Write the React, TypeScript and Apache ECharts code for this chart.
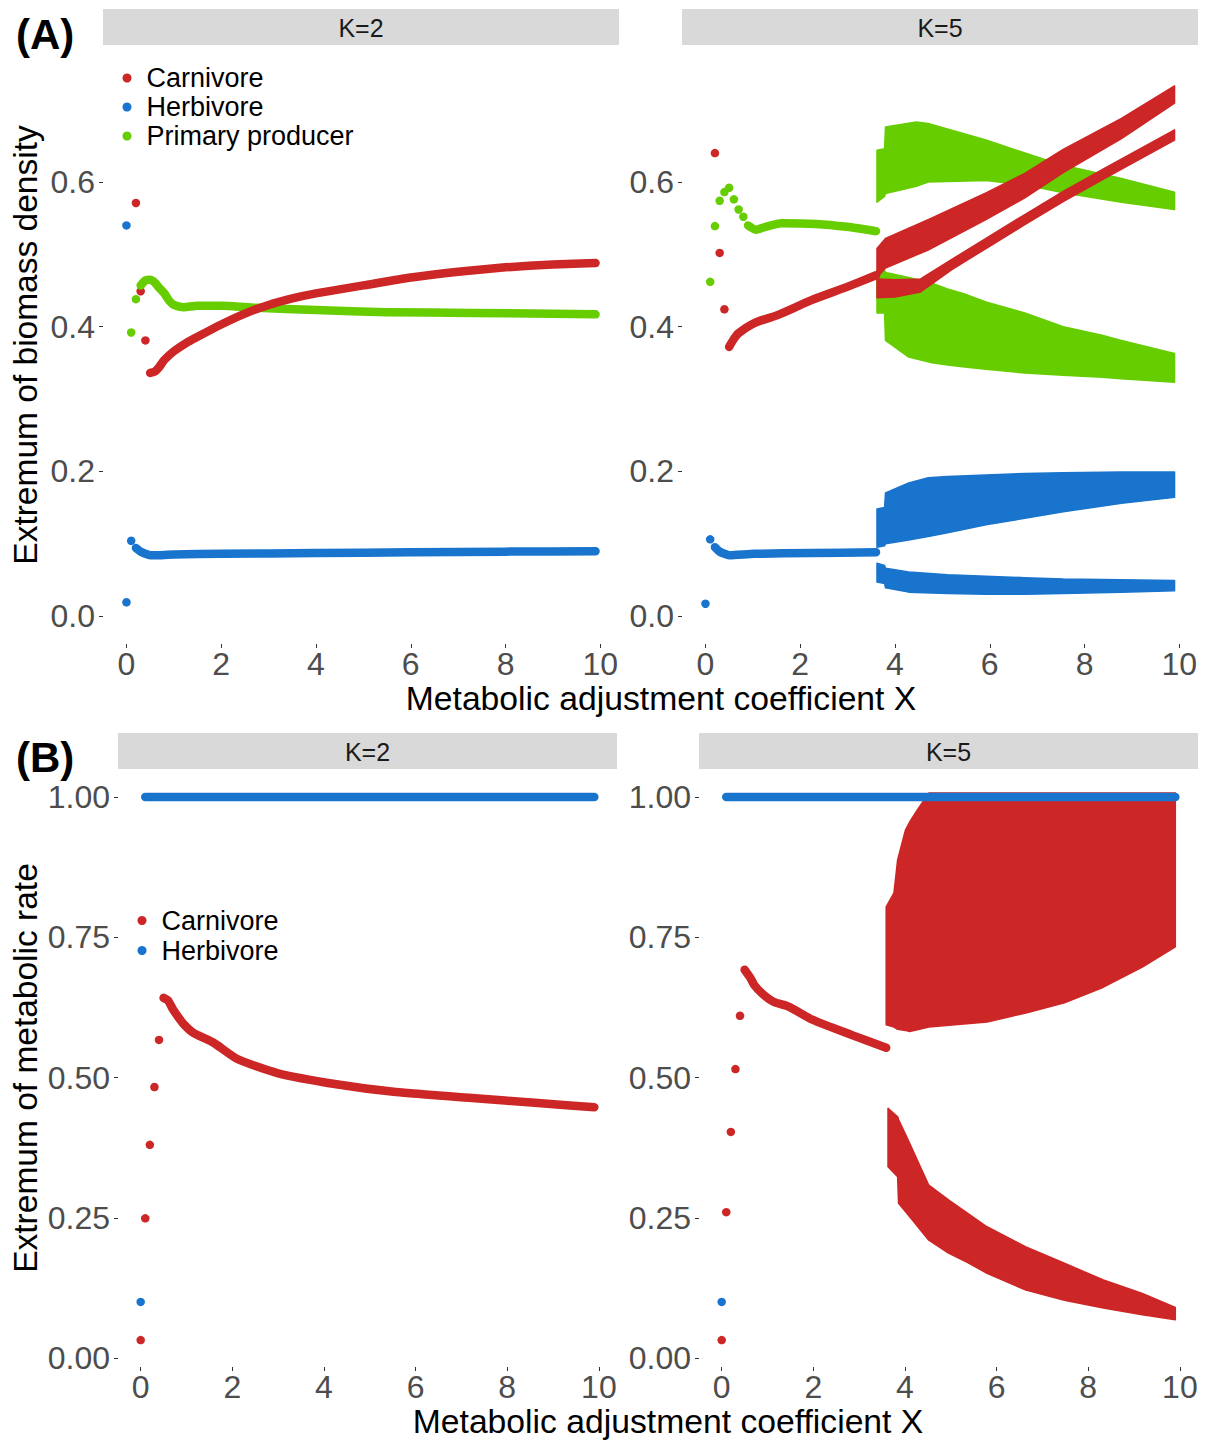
import React, { useEffect, useRef } from "react";
import * as echarts from "echarts";

// ---------- colours & fonts ----------
const RED = "#CD2626";
const BLUE = "#1874CD";
const GREEN = "#66CD00";
const FONT = "'Liberation Sans', Arial, Helvetica, sans-serif";

// ---------- axis ticks ----------
const xTicks = [0, 2, 4, 6, 8, 10];
const yTicksA = [0, 0.2, 0.4, 0.6];
const yTicksB = [0, 0.25, 0.5, 0.75, 1];
const stripLabels = ["K=2", "K=5"];

// ---------- Panel A, K=2 ----------
const a2CarnDotX = [0.2, 0.3, 0.4];
const a2CarnDotY = [0.571, 0.449, 0.381];
const a2CarnLineX = [0.5, 0.6, 0.7, 0.8, 1.0, 1.25, 1.5, 2.0, 2.5, 3.0, 3.5, 4.0, 5.0, 6.0, 7.0, 8.0, 9.0, 9.9];
const a2CarnLineY = [0.336, 0.338, 0.345, 0.354, 0.366, 0.377, 0.386, 0.403, 0.418, 0.430, 0.439, 0.446, 0.457, 0.468, 0.476, 0.482, 0.486, 0.488];
const a2HerbDotX = [0, 0, 0.1];
const a2HerbDotY = [0.019, 0.540, 0.104];
const a2HerbLineX = [0.2, 0.3, 0.4, 0.5, 0.7, 1.0, 2.0, 4.0, 6.0, 8.0, 9.9];
const a2HerbLineY = [0.094, 0.089, 0.086, 0.084, 0.084, 0.085, 0.086, 0.087, 0.088, 0.089, 0.0895];
const a2ProdDotX = [0.1, 0.2];
const a2ProdDotY = [0.392, 0.438];
const a2ProdLineX = [0.3, 0.4, 0.5, 0.6, 0.7, 0.8, 0.9, 1.0, 1.2, 1.5, 2.0, 2.75, 4.0, 5.5, 7.3, 9.9];
const a2ProdLineY = [0.457, 0.464, 0.465, 0.461, 0.453, 0.446, 0.436, 0.430, 0.427, 0.429, 0.429, 0.426, 0.423, 0.420, 0.419, 0.417];

// ---------- Panel A, K=5 ----------
const a5CarnDotX = [0.2, 0.3, 0.4];
const a5CarnDotY = [0.640, 0.502, 0.424];
const a5CarnLineX = [0.5, 0.6, 0.7, 1.03, 1.52, 2.25, 2.99, 3.6];
const a5CarnLineY = [0.372, 0.383, 0.391, 0.405, 0.416, 0.437, 0.455, 0.471];
const a5HerbDotX = [0, 0.1];
const a5HerbDotY = [0.017, 0.106];
const a5HerbLineX = [0.2, 0.3, 0.4, 0.5, 1.03, 2.25, 3.6];
const a5HerbLineY = [0.095, 0.089, 0.086, 0.084, 0.086, 0.087, 0.088];
const a5ProdDotX = [0.1, 0.2, 0.3, 0.4, 0.5, 0.6, 0.7, 0.8];
const a5ProdDotY = [0.462, 0.539, 0.574, 0.586, 0.592, 0.576, 0.562, 0.552];
const a5ProdLineX = [0.9, 1.07, 1.27, 1.6, 2.33, 2.99, 3.6];
const a5ProdLineY = [0.540, 0.534, 0.538, 0.543, 0.542, 0.538, 0.532];

// oscillation envelopes (min / max of the extrema cloud) for K=5
const a5CarnUpX = [3.62, 3.80, 4.70, 5.92, 6.74, 7.55, 8.78, 9.9];
const a5CarnUpLo = [0.468, 0.481, 0.506, 0.548, 0.578, 0.613, 0.660, 0.709];
const a5CarnUpHi = [0.508, 0.522, 0.548, 0.585, 0.612, 0.645, 0.688, 0.733];
const a5CarnLowX = [3.62, 4.0, 4.54, 5.2, 5.92, 6.74, 7.55, 8.37, 9.9];
const a5CarnLowLo = [0.440, 0.441, 0.448, 0.479, 0.508, 0.541, 0.573, 0.603, 0.658];
const a5CarnLowHi = [0.466, 0.465, 0.466, 0.493, 0.522, 0.555, 0.587, 0.617, 0.672];
const a5HerbUpX = [3.62, 3.78, 3.80, 4.29, 4.70, 5.11, 5.92, 6.74, 7.55, 8.78, 9.9];
const a5HerbUpLo = [0.095, 0.097, 0.100, 0.105, 0.110, 0.115, 0.126, 0.135, 0.144, 0.156, 0.164];
const a5HerbUpHi = [0.148, 0.150, 0.170, 0.184, 0.191, 0.193, 0.195, 0.197, 0.198, 0.199, 0.199];
const a5HerbLowX = [3.62, 3.78, 3.80, 4.29, 5.11, 5.92, 6.74, 7.55, 8.78, 9.9];
const a5HerbLowLo = [0.047, 0.045, 0.039, 0.033, 0.031, 0.030, 0.030, 0.031, 0.033, 0.035];
const a5HerbLowHi = [0.073, 0.070, 0.066, 0.061, 0.057, 0.055, 0.053, 0.051, 0.050, 0.049];
const a5ProdUpX = [3.62, 3.78, 3.80, 4.45, 4.70, 5.92, 6.74, 7.55, 8.78, 9.9];
const a5ProdUpLo = [0.572, 0.580, 0.584, 0.594, 0.600, 0.602, 0.596, 0.585, 0.572, 0.562];
const a5ProdUpHi = [0.644, 0.646, 0.676, 0.683, 0.681, 0.658, 0.640, 0.623, 0.605, 0.586];
const a5ProdLowX = [3.62, 3.78, 3.80, 4.29, 4.78, 5.11, 5.52, 5.92, 6.74, 7.55, 8.37, 8.78, 9.9];
const a5ProdLowLo = [0.419, 0.419, 0.381, 0.358, 0.350, 0.347, 0.344, 0.341, 0.336, 0.333, 0.330, 0.328, 0.323];
const a5ProdLowHi = [0.478, 0.478, 0.475, 0.468, 0.460, 0.452, 0.444, 0.434, 0.419, 0.400, 0.388, 0.381, 0.363];

// ---------- Panel B, K=2 ----------
const b2CarnDotX = [0, 0.1, 0.2, 0.3, 0.4];
const b2CarnDotY = [0.032, 0.249, 0.380, 0.483, 0.567];
const b2CarnLineX = [0.5, 0.6, 0.7, 0.8, 0.94, 1.16, 1.59, 2.11, 2.98, 4.27, 5.57, 7.3, 8.6, 9.9];
const b2CarnLineY = [0.642, 0.637, 0.622, 0.610, 0.595, 0.579, 0.562, 0.533, 0.508, 0.488, 0.474, 0.463, 0.455, 0.447];
const b2HerbDotX = [0];
const b2HerbDotY = [0.100];
const b2HerbLineX = [0.1, 9.9];
const b2HerbLineY = [1, 1];

// ---------- Panel B, K=5 ----------
const b5CarnDotX = [0, 0.1, 0.2, 0.3, 0.4];
const b5CarnDotY = [0.032, 0.260, 0.403, 0.515, 0.610];
const b5CarnLineX = [0.5, 0.63, 0.71, 0.88, 1.13, 1.47, 1.98, 2.83, 3.59];
const b5CarnLineY = [0.692, 0.677, 0.665, 0.650, 0.635, 0.626, 0.603, 0.576, 0.553];
const b5HerbDotX = [0];
const b5HerbDotY = [0.100];
const b5HerbLineX = [0.1, 9.9];
const b5HerbLineY = [1, 1];
const b5CarnUpX = [3.59, 3.76, 3.84, 4.01, 4.10, 4.27, 4.52, 5.79, 6.64, 7.48, 8.33, 9.18, 9.9];
const b5CarnUpLo = [0.594, 0.590, 0.586, 0.584, 0.582, 0.585, 0.590, 0.599, 0.615, 0.633, 0.661, 0.697, 0.733];
const b5CarnUpHi = [0.804, 0.829, 0.888, 0.941, 0.955, 0.977, 1.007, 1.007, 1.007, 1.007, 1.007, 1.007, 1.007];
const b5CarnLowX = [3.63, 3.84, 3.86, 4.10, 4.52, 4.95, 5.37, 5.79, 6.64, 7.48, 8.33, 9.18, 9.9];
const b5CarnLowLo = [0.341, 0.323, 0.276, 0.252, 0.210, 0.187, 0.170, 0.151, 0.121, 0.103, 0.089, 0.077, 0.068];
const b5CarnLowHi = [0.445, 0.430, 0.425, 0.383, 0.308, 0.282, 0.258, 0.234, 0.198, 0.169, 0.139, 0.115, 0.090];

// ---------- helpers ----------
const pairs = (xs: number[], ys: number[]) => xs.map((x, i) => [x, ys[i]]);

function dots(name: string, color: string, xs: number[], ys: number[], gi: number) {
  return {
    type: "scatter", name, xAxisIndex: gi, yAxisIndex: gi,
    data: pairs(xs, ys), symbol: "circle", symbolSize: 8.5,
    itemStyle: { color, opacity: 1 }, silent: true,
  };
}

function curve(name: string, color: string, xs: number[], ys: number[], gi: number) {
  return {
    type: "line", name, xAxisIndex: gi, yAxisIndex: gi,
    data: pairs(xs, ys), showSymbol: false, symbol: "none",
    smooth: 0.2,
    lineStyle: { color, width: 8.5, cap: "round", join: "round" },
    itemStyle: { color }, silent: true,
  };
}

function band(name: string, color: string, xs: number[], lo: number[], hi: number[], gi: number) {
  return {
    type: "custom", name, xAxisIndex: gi, yAxisIndex: gi,
    data: xs.map((x, i) => [x, lo[i], hi[i]]),
    encode: { x: 0, y: [1, 2] },
    itemStyle: { color }, silent: true, clip: true,
    renderItem: (params: any, api: any) => {
      if (params.dataIndex !== 0) return null;
      const top = xs.map((x, i) => api.coord([x, hi[i]]));
      const bottom = xs.map((x, i) => api.coord([x, lo[i]])).reverse();
      return {
        type: "polygon",
        shape: { points: top.concat(bottom), smooth: 0 },
        style: { fill: color, stroke: color, lineWidth: 1.5, lineJoin: "round" },
      };
    },
  };
}

const grids = [
  { left: 103, top: 46, width: 516, height: 598 },
  { left: 682, top: 46, width: 516, height: 598 },
  { left: 118, top: 769, width: 499, height: 598 },
  { left: 699, top: 769, width: 499, height: 598 },
];

function xAxis(gi: number) {
  return {
    type: "value", gridIndex: gi, min: -0.495, max: 10.395, position: "bottom",
    axisLine: { show: false, onZero: false }, splitLine: { show: false },
    axisTick: { show: true, length: 4, lineStyle: { color: "#333333", width: 1 }, customValues: xTicks },
    axisLabel: { customValues: xTicks, color: "#4D4D4D", fontSize: 32, lineHeight: 24, fontFamily: FONT, margin: 8,
      formatter: (v: number) => String(v) },
  };
}

function yAxis(gi: number, isA: boolean) {
  const ticks = isA ? yTicksA : yTicksB;
  return {
    type: "value", gridIndex: gi, position: "left",
    min: isA ? -0.0387 : -0.016, max: isA ? 0.788 : 1.0499,
    axisLine: { show: false, onZero: false }, splitLine: { show: false },
    axisTick: { show: true, length: 4, lineStyle: { color: "#333333", width: 1 }, customValues: ticks },
    axisLabel: { customValues: ticks, color: "#4D4D4D", fontSize: 32, lineHeight: 24, fontFamily: FONT, margin: 8,
      formatter: (v: number) => v.toFixed(isA ? 1 : 2) },
  };
}

const series = [
  // A, K=2
  dots("Herbivore", BLUE, a2HerbDotX, a2HerbDotY, 0),
  curve("Herbivore", BLUE, a2HerbLineX, a2HerbLineY, 0),
  dots("Primary producer", GREEN, a2ProdDotX, a2ProdDotY, 0),
  curve("Primary producer", GREEN, a2ProdLineX, a2ProdLineY, 0),
  dots("Carnivore", RED, a2CarnDotX, a2CarnDotY, 0),
  curve("Carnivore", RED, a2CarnLineX, a2CarnLineY, 0),
  // A, K=5
  dots("Herbivore", BLUE, a5HerbDotX, a5HerbDotY, 1),
  curve("Herbivore", BLUE, a5HerbLineX, a5HerbLineY, 1),
  band("Herbivore", BLUE, a5HerbUpX, a5HerbUpLo, a5HerbUpHi, 1),
  band("Herbivore", BLUE, a5HerbLowX, a5HerbLowLo, a5HerbLowHi, 1),
  dots("Primary producer", GREEN, a5ProdDotX, a5ProdDotY, 1),
  curve("Primary producer", GREEN, a5ProdLineX, a5ProdLineY, 1),
  band("Primary producer", GREEN, a5ProdUpX, a5ProdUpLo, a5ProdUpHi, 1),
  band("Primary producer", GREEN, a5ProdLowX, a5ProdLowLo, a5ProdLowHi, 1),
  dots("Carnivore", RED, a5CarnDotX, a5CarnDotY, 1),
  curve("Carnivore", RED, a5CarnLineX, a5CarnLineY, 1),
  band("Carnivore", RED, a5CarnUpX, a5CarnUpLo, a5CarnUpHi, 1),
  band("Carnivore", RED, a5CarnLowX, a5CarnLowLo, a5CarnLowHi, 1),
  // B, K=2
  dots("Herbivore", BLUE, b2HerbDotX, b2HerbDotY, 2),
  curve("Herbivore", BLUE, b2HerbLineX, b2HerbLineY, 2),
  dots("Carnivore", RED, b2CarnDotX, b2CarnDotY, 2),
  curve("Carnivore", RED, b2CarnLineX, b2CarnLineY, 2),
  // B, K=5
  dots("Herbivore", BLUE, b5HerbDotX, b5HerbDotY, 3),
  curve("Herbivore", BLUE, b5HerbLineX, b5HerbLineY, 3),
  dots("Carnivore", RED, b5CarnDotX, b5CarnDotY, 3),
  curve("Carnivore", RED, b5CarnLineX, b5CarnLineY, 3),
  band("Carnivore", RED, b5CarnUpX, b5CarnUpLo, b5CarnUpHi, 3),
  band("Carnivore", RED, b5CarnLowX, b5CarnLowLo, b5CarnLowHi, 3),
];

function strip(x: number, y: number, w: number, label: string) {
  return [
    { type: "rect", shape: { x, y, width: w, height: 36 }, style: { fill: "#D9D9D9" }, silent: true },
    { type: "text", x: x + w / 2, y: y + 18.5, silent: true,
      style: { text: label, fill: "#1A1A1A", font: `25px ${FONT}`, align: "center", verticalAlign: "middle" } },
  ];
}

const XTITLE = "Metabolic adjustment coefficient X";

const graphic = [
  ...strip(103, 9, 516, stripLabels[0]),
  ...strip(682, 9, 516, stripLabels[1]),
  ...strip(118, 733, 499, stripLabels[0]),
  ...strip(699, 733, 499, stripLabels[1]),
  { type: "text", x: 16, y: 34, silent: true,
    style: { text: "(A)", fill: "#000000", font: `bold 42px ${FONT}`, align: "left", verticalAlign: "middle" } },
  { type: "text", x: 16, y: 757, silent: true,
    style: { text: "(B)", fill: "#000000", font: `bold 42px ${FONT}`, align: "left", verticalAlign: "middle" } },
  { type: "text", x: 661, y: 698, silent: true,
    style: { text: XTITLE, fill: "#000000", font: `33.7px ${FONT}`, lineHeight: 26, align: "center", verticalAlign: "middle" } },
  { type: "text", x: 668, y: 1421, silent: true,
    style: { text: XTITLE, fill: "#000000", font: `33.7px ${FONT}`, lineHeight: 26, align: "center", verticalAlign: "middle" } },
  { type: "text", x: 25, y: 345, rotation: Math.PI / 2, silent: true,
    style: { text: "Extremum of biomass density", fill: "#000000", font: `33.5px ${FONT}`, align: "center", verticalAlign: "middle" } },
  { type: "text", x: 25, y: 1068, rotation: Math.PI / 2, silent: true,
    style: { text: "Extremum of metabolic rate", fill: "#000000", font: `33.5px ${FONT}`, align: "center", verticalAlign: "middle" } },
];

const legendText = { color: "#000000", fontSize: 27, fontFamily: FONT, padding: [0, 0, 0, 10] };

const option = {
  animation: false,
  backgroundColor: "#FFFFFF",
  grid: grids.map((g) => ({ ...g, containLabel: false, outerBoundsMode: "none" })),
  xAxis: [xAxis(0), xAxis(1), xAxis(2), xAxis(3)],
  yAxis: [yAxis(0, true), yAxis(1, true), yAxis(2, false), yAxis(3, false)],
  legend: [
    {
      orient: "vertical", left: 122.5, top: 63.5, padding: 0, itemGap: 0,
      itemWidth: 9, itemHeight: 9, selectedMode: false,
      data: [
        { name: "Carnivore", icon: "circle" },
        { name: "Herbivore", icon: "circle" },
        { name: "Primary producer", icon: "circle" },
      ],
      textStyle: { ...legendText, lineHeight: 29 },
    },
    {
      orient: "vertical", left: 137.5, top: 905.5, padding: 0, itemGap: 0,
      itemWidth: 9, itemHeight: 9, selectedMode: false,
      data: [
        { name: "Carnivore", icon: "circle" },
        { name: "Herbivore", icon: "circle" },
      ],
      textStyle: { ...legendText, lineHeight: 30 },
    },
  ],
  graphic,
  series,
};

export default function App() {
  const ref = useRef<HTMLDivElement>(null);
  useEffect(() => {
    if (!ref.current) return;
    const chart = echarts.init(ref.current, null, { renderer: "svg" });
    chart.setOption(option as any);
    return () => chart.dispose();
  }, []);
  return (
    <div
      ref={ref}
      style={{ position: "absolute", left: 0, top: 0, width: 1207, height: 1441, background: "#FFFFFF" }}
    />
  );
}
